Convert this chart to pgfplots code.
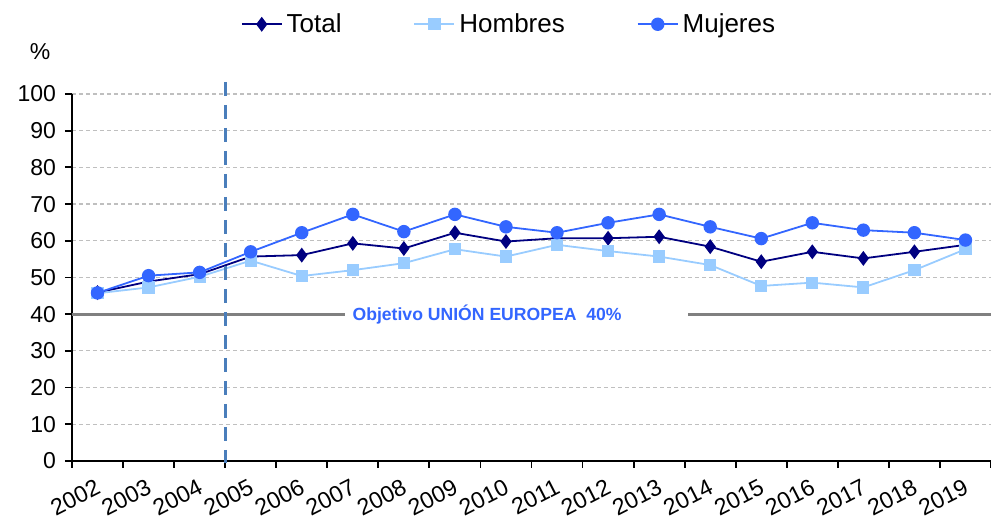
\documentclass[border=0pt]{standalone}
\usepackage{fontspec}
\setmainfont{Liberation Sans}
\usepackage{pgfplots}
\pgfplotsset{compat=1.18}
\usepackage{pgfplotstable}

\definecolor{total}{HTML}{000080}
\definecolor{hombres}{HTML}{99CCFF}
\definecolor{mujeres}{HTML}{3366FF}
\definecolor{ueline}{HTML}{4A7EBB}
\definecolor{gridc}{HTML}{BFBFBF}
\definecolor{objline}{HTML}{808080}

% values, years 2002..2019 at x = 0..17
\pgfplotstableread{
x total hombres mujeres
0  45.9 45.7 45.8
1  48.9 47.3 50.5
2  50.9 50.2 51.4
3  55.7 54.6 57.0
4  56.1 50.4 62.2
5  59.3 52.0 67.2
6  57.9 53.9 62.5
7  62.2 57.7 67.2
8  59.8 55.7 63.8
9  60.7 58.9 62.2
10 60.7 57.2 64.9
11 61.1 55.7 67.2
12 58.4 53.4 63.8
13 54.3 47.7 60.6
14 57.0 48.6 64.9
15 55.2 47.3 62.9
16 57.0 52.0 62.2
17 58.9 57.7 60.2
}\datatable

\begin{document}
\begin{tikzpicture}
\begin{axis}[
  scale only axis, width=459.5pt, height=183.5pt,
  xmin=-0.5, xmax=17.5, ymin=0, ymax=100,
  axis x line=bottom, axis y line=left,
  axis line style={line width=0.9pt, -},
  clip=false,
  tick align=outside,
  ytick={0,10,...,100},
  yticklabel style={font=\fontsize{11.5}{13}\selectfont, xshift=-1pt},
  major tick length=3.5pt, minor tick length=3.5pt,
  tick style={black, line width=0.9pt},
  xtick={0,...,17},
  xticklabels={2002,2003,2004,2005,2006,2007,2008,2009,2010,2011,2012,2013,2014,2015,2016,2017,2018,2019},
  major x tick style={draw=none},
  minor xtick={-0.5,0.5,...,17.5},
  minor x tick style={draw=black, line width=0.9pt},
  xticklabel style={font=\fontsize{11.6}{13}\selectfont, rotate=27, anchor=north east, inner sep=0.5pt, yshift=-3.3pt, xshift=-3pt},
  ymajorgrids, grid style={gridc, dashed, dash pattern=on 2pt off 1.5pt, line width=0.6pt},
  /pgf/number format/assume math mode=true,
  legend columns=3,
  legend style={draw=none, fill=none, at={(rel axis cs:0.4766,1.19)}, anchor=center,
    font=\fontsize{13}{15}\selectfont,
    /tikz/every even column/.append style={column sep=34pt}},
  legend image code/.code={\draw[mark repeat=2, mark phase=2] plot coordinates {(0pt,0pt) (10pt,0pt) (20pt,0pt)};},
]
\addplot[total, line width=0.9pt, mark=diamond*, mark size=3pt, mark options={solid, fill=total}]
  table[x=x, y=total] {\datatable};
\addlegendentry{Total}
\addplot[hombres, line width=0.9pt, mark=square*, mark size=2.6pt, mark options={solid, fill=hombres}]
  table[x=x, y=hombres] {\datatable};
\addlegendentry{Hombres}
\addplot[mujeres, line width=0.9pt, mark=*, mark size=2.9pt, mark options={solid, fill=mujeres}]
  table[x=x, y=mujeres] {\datatable};
\addlegendentry{Mujeres}

% EU target line with its label in a gap
\fill[white] (axis cs:4.85,38) rectangle (axis cs:11.57,42);
\draw[objline, line width=1.5pt] (axis cs:-0.5,40) -- (axis cs:4.85,40);
\draw[objline, line width=1.5pt] (axis cs:11.57,40) -- (axis cs:17.5,40);
\node[mujeres, font=\bfseries\fontsize{8.8}{10}\selectfont] at (axis cs:7.63,40) {Objetivo UNIÓN EUROPEA\ \ 40\%};

% 2005 marker
\draw[ueline, line width=1.5pt, dash pattern=on 7pt off 4.5pt] (axis cs:2.5,103.3) -- (axis cs:2.5,-0.5);

\node[font=\fontsize{11.5}{13}\selectfont] at ([xshift=-16pt, yshift=21pt]rel axis cs:0,1) {\%};
\end{axis}
\pgfresetboundingbox
\path[use as bounding box] ([xshift=-36pt, yshift=-29pt]current axis.south west) rectangle ([yshift=47pt]current axis.north east);
\end{tikzpicture}
\end{document}
